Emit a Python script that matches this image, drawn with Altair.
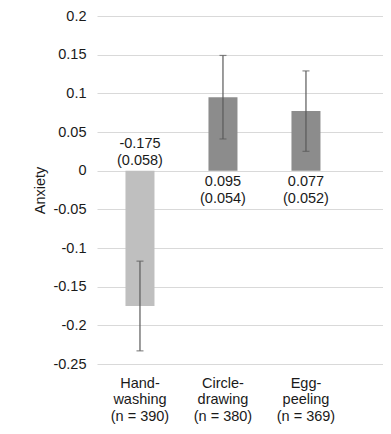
import altair as alt
import pandas as pd

categories = ["Hand-|washing", "Circle-|drawing", "Egg-|peeling"]
n_values = [390, 380, 369]
means = [-0.175, 0.095, 0.077]
ses = [0.058, 0.054, 0.052]
mean_labels = ["-0.175", "0.095", "0.077"]
se_labels = ["(0.058)", "(0.054)", "(0.052)"]
bar_colors = ["#bfbfbf", "#8c8c8c", "#8c8c8c"]
y_ticks = [0.2, 0.15, 0.1, 0.05, 0, -0.05, -0.1, -0.15, -0.2, -0.25]

cats = [f"{c}|(n = {n})" for c, n in zip(categories, n_values)]
df = pd.DataFrame({
    "cat": cats,
    "mean": means,
    "lo": [m - s for m, s in zip(means, ses)],
    "hi": [m + s for m, s in zip(means, ses)],
    "label": [f"{a}\n{b}" for a, b in zip(mean_labels, se_labels)],
    "color": bar_colors,
})

FONT = "Liberation Sans"
FS = 14.5

x = alt.X(
    "cat:N",
    sort=cats,
    scale=alt.Scale(domain=cats, paddingInner=0, paddingOuter=0.223, align=0.04),
    axis=alt.Axis(
        title=None, labelAngle=0, domain=False, ticks=False,
        labelExpr="split(datum.value, '|')", labelFont=FONT, labelFontSize=FS,
        labelColor="#1a1a1a", labelPadding=12, labelLineHeight=16.5,
    ),
)
y = alt.Y(
    "mean:Q",
    scale=alt.Scale(domain=[-0.25, 0.2], nice=False, zero=False),
    axis=alt.Axis(
        title="Anxiety", values=y_ticks, tickCount=20, domain=False, ticks=False,
        labelExpr="replace(format(datum.value, '.2~f'), '\u2212', '-')",
        labelOverlap=False, labelBound=False, labelFlush=False,
        labelFont=FONT, labelFontSize=FS, labelColor="#1a1a1a", labelPadding=11,
        titleFont=FONT, titleFontSize=FS, titleFontWeight="normal",
        titleColor="#1a1a1a", titlePadding=5,
        gridColor="#d9d9d9", gridWidth=1,
    ),
)

base = alt.Chart(df)
bars = base.mark_bar(size=29).encode(x=x, y=y, y2=alt.datum(0),
                                     color=alt.Color("color:N", scale=None))
rules = base.mark_rule(color="#5a5a5a", strokeWidth=1.2).encode(x=x, y="lo:Q", y2="hi:Q")
cap_lo = base.mark_tick(color="#5a5a5a", thickness=1.2, size=7).encode(x=x, y="lo:Q")
cap_hi = base.mark_tick(color="#5a5a5a", thickness=1.2, size=7).encode(x=x, y="hi:Q")
txt_neg = base.transform_filter("datum.mean < 0").mark_text(
    baseline="bottom", dy=-20, font=FONT, fontSize=FS, color="#1a1a1a",
    lineBreak="\n", lineHeight=17,
).encode(x=x, y=alt.datum(0), text="label:N")
txt_pos = base.transform_filter("datum.mean >= 0").mark_text(
    baseline="top", dy=4, font=FONT, fontSize=FS, color="#1a1a1a",
    lineBreak="\n", lineHeight=17,
).encode(x=x, y=alt.datum(0), text="label:N")

chart = alt.layer(bars, rules, cap_lo, cap_hi, txt_neg, txt_pos).properties(
    width=286, height=348,
    autosize=alt.AutoSizeParams(type="none"),
    padding={"left": 89, "top": 8, "right": 0, "bottom": 62},
).configure(background="white").configure_view(stroke=None)

chart.save("out.html", embed_options={"renderer": "svg", "actions": False})
